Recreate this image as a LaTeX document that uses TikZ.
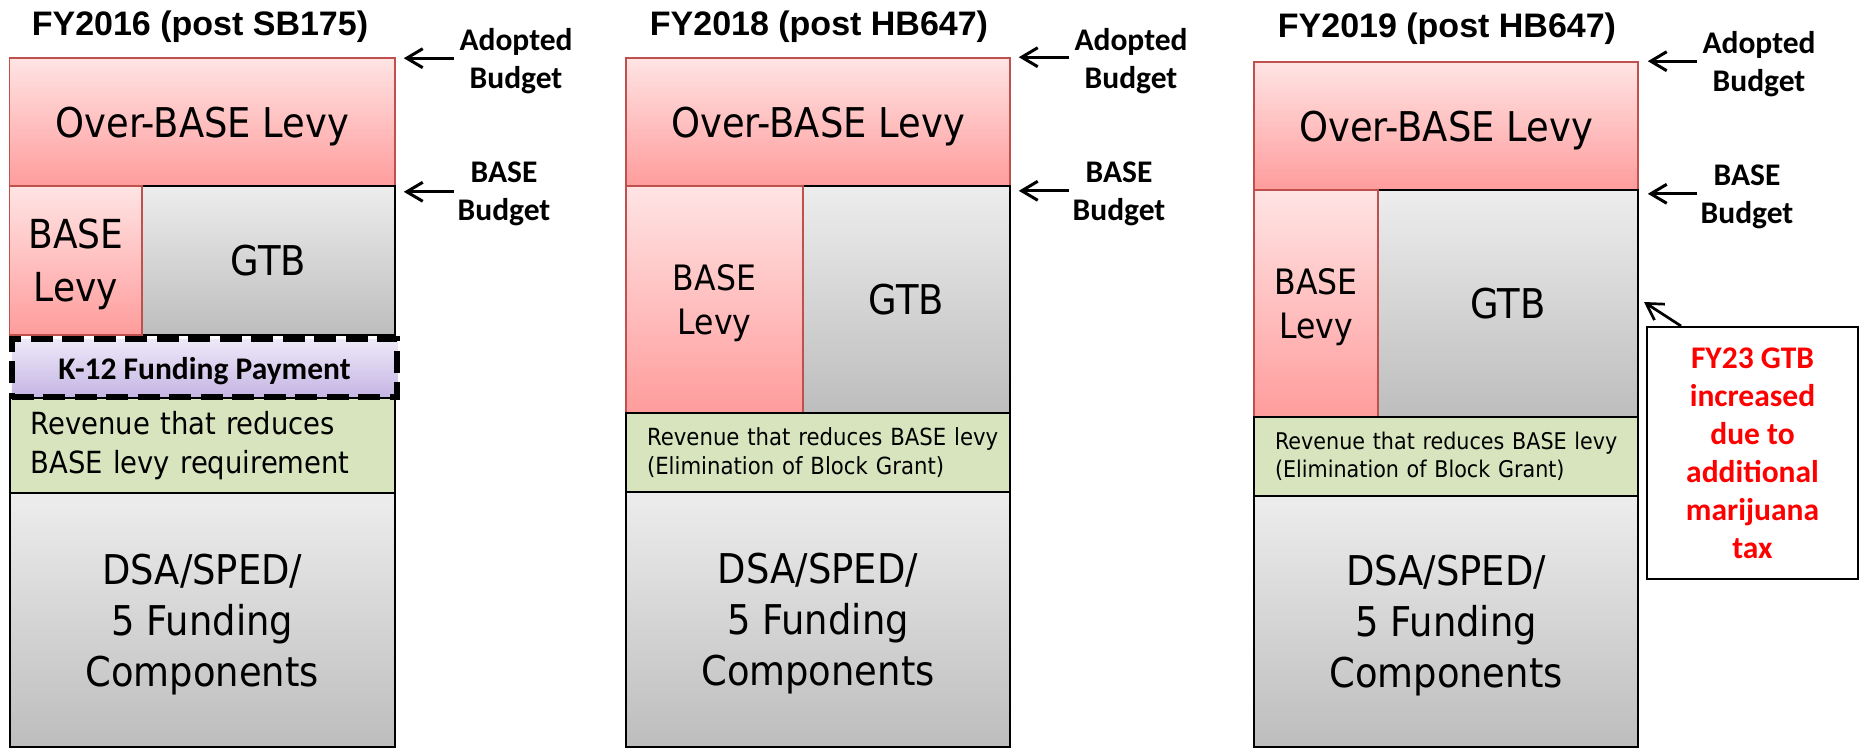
\documentclass[tikz,border=0pt]{standalone}
\usepackage{fontspec}
\usetikzlibrary{arrows.meta,calc}

\newfontfamily\boxfont{DejaVu Sans}[FakeStretch=0.9]
\newfontfamily\headfont{Liberation Sans}
\newfontfamily\callfont{Carlito}

\definecolor{pinktop}{RGB}{255,228,228}
\definecolor{pinkbot}{RGB}{255,156,156}
\definecolor{pinkline}{RGB}{192,80,77}
\definecolor{greytop}{RGB}{237,237,237}
\definecolor{greybot}{RGB}{189,189,189}
\definecolor{revfill}{RGB}{215,228,189}
\definecolor{lilactop}{RGB}{238,233,248}
\definecolor{lilacbot}{RGB}{197,181,228}
\definecolor{notered}{RGB}{255,0,0}

\tikzset{
  block/.style={rectangle, inner sep=0pt, text depth=0pt, align=center,
    font=\boxfont\fontsize{41}{51}\selectfont},
  levy/.style={block, draw=pinkline, line width=1.6pt, top color=pinktop, bottom color=pinkbot},
  grant/.style={block, draw=black, line width=2pt, top color=greytop, bottom color=greybot},
  revenue/.style={block, text depth=, draw=black, line width=2pt, fill=revfill,
    align=left, inner xsep=21pt},
  payment/.style={block, draw=black, line width=6pt, dash pattern=on 22pt off 9.5pt,
    top color=lilactop, bottom color=lilacbot,
    font=\callfont\bfseries\fontsize{31.5}{38}\selectfont},
  heading/.style={anchor=base, inner sep=0pt, font=\headfont\bfseries\fontsize{34}{40}\selectfont},
  marker/.style={inner sep=0pt, text depth=0pt, align=center,
    font=\callfont\bfseries\fontsize{31.5}{38}\selectfont},
  note/.style={marker, draw=black, line width=2pt, fill=white, text=notered},
  pointer/.style={line width=3pt, -{Straight Barb[length=16pt,width=19pt]}},
  thinpointer/.style={line width=2.7pt, -{Straight Barb[length=16pt,width=19pt]}},
}

\begin{document}
\begin{tikzpicture}[x=1pt,y=-1pt]
\useasboundingbox (0,0) rectangle (1865,748);

% ---------- FY2016 ----------
\node[heading] (t1) at (200,35) {FY2016 (post SB175)};
\node[levy, minimum width=385.4pt, minimum height=128pt] (ob1) at (202.3,122) {Over-BASE Levy};
\node[grant, minimum width=253pt, minimum height=149pt] (gtb1) at (268.5,260.5) {GTB};
\node[levy, minimum width=132.4pt, minimum height=149pt, font=\boxfont\fontsize{40}{53}\selectfont]
  (bl1) at (75.8,260.5) {BASE\\Levy};
\node[revenue, text width=343.4pt, minimum height=97pt, font=\boxfont\fontsize{30.5}{39}\selectfont]
  (rev1) at (202.3,446) {Revenue that reduces\\BASE levy requirement};
\node[grant, minimum width=385.4pt, minimum height=254pt] (dsa1) at (202.3,620)
  {DSA/SPED/\\5 Funding\hspace*{0.3em}\\Components};
\node[payment, minimum width=385.5pt, minimum height=57.5pt] (k12) at (204.5,368) {K-12 Funding Payment};

\node[marker] (ad1) at (516,58.5) {Adopted\\Budget};
\node[marker] (bb1) at (504,191.5) {BASE\\Budget};
\draw[pointer] ($(ob1.north east)+(58,1)$) -- ($(ob1.north east)+(8,1)$);
\draw[pointer] ($(ob1.south east)+(58,5)$) -- ($(ob1.south east)+(8,5)$);

% ---------- FY2018 ----------
\node[heading] (t2) at (819,35) {FY2018 (post HB647)};
\node[levy, minimum width=384pt, minimum height=128pt] (ob2) at (818,122) {Over-BASE Levy};
\node[grant, minimum width=207pt, minimum height=227pt] (gtb2) at (906.5,299.5) {GTB};
\node[levy, minimum width=177pt, minimum height=227pt, font=\boxfont\fontsize{35}{44}\selectfont]
  (bl2) at (714.5,299.5) {BASE\\Levy};
\node[revenue, text width=342pt, minimum height=79pt, font=\boxfont\fontsize{23.6}{28.5}\selectfont]
  (rev2) at (818,452.5) {\mbox{Revenue that reduces BASE levy}\\\mbox{(Elimination of Block Grant)}};
\node[grant, minimum width=384pt, minimum height=255pt] (dsa2) at (818,619.5)
  {DSA/SPED/\\5 Funding\hspace*{0.3em}\\Components};

\node[marker] (ad2) at (1131,58.5) {Adopted\\Budget};
\node[marker] (bb2) at (1119,191.5) {BASE\\Budget};
\draw[pointer] ($(ob2.north east)+(58,0)$) -- ($(ob2.north east)+(8,0)$);
\draw[pointer] ($(ob2.south east)+(58,4)$) -- ($(ob2.south east)+(8,4)$);

% ---------- FY2019 ----------
\node[heading] (t3) at (1447,37) {FY2019 (post HB647)};
\node[levy, minimum width=384pt, minimum height=128pt] (ob3) at (1446,126) {Over-BASE Levy};
\node[grant, minimum width=260pt, minimum height=227pt] (gtb3) at (1508,303.5) {GTB};
\node[levy, minimum width=124pt, minimum height=227pt, font=\boxfont\fontsize{35}{44}\selectfont]
  (bl3) at (1316,303.5) {BASE\\Levy};
\node[revenue, text width=342pt, minimum height=79pt, font=\boxfont\fontsize{23}{28.5}\selectfont]
  (rev3) at (1446,456.5) {\mbox{Revenue that reduces BASE levy}\\\mbox{(Elimination of Block Grant)}};
\node[grant, minimum width=384pt, minimum height=251pt] (dsa3) at (1446,621.5)
  {DSA/SPED/\\5 Funding\hspace*{0.3em}\\Components};

\node[marker] (ad3) at (1759,61) {Adopted\\Budget};
\node[marker] (bb3) at (1747,194.5) {BASE\\Budget};
\draw[pointer] ($(ob3.north east)+(58,0)$) -- ($(ob3.north east)+(9,0)$);
\draw[pointer] ($(ob3.south east)+(58,3)$) -- ($(ob3.south east)+(9,3)$);

\node[note, minimum width=211pt, minimum height=252pt] (gtbnote) at (1752.5,453)
  {FY23 GTB\\increased\\due to\\additional\\marijuana\\tax};
\draw[thinpointer] ($(gtbnote.north west)+(35,0)$) -- ($(gtb3.east)+(5,-1.5)$);
\end{tikzpicture}
\end{document}
